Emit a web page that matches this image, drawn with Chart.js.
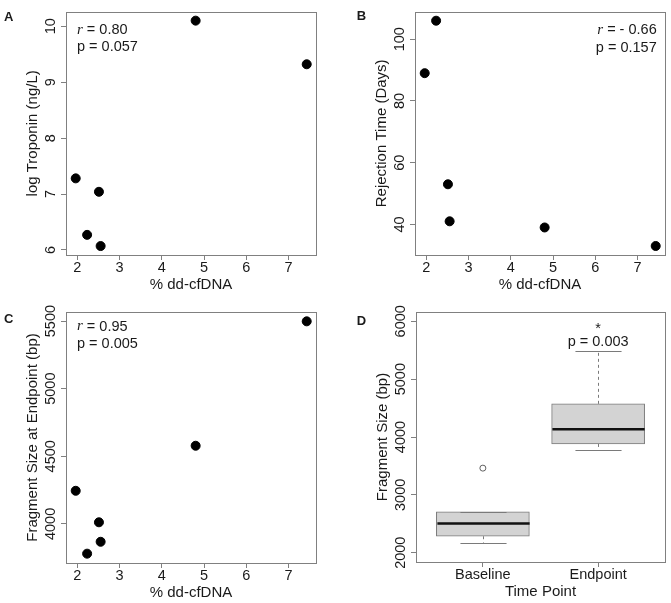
<!DOCTYPE html>
<html>
<head>
<meta charset="utf-8">
<script src="https://cdn.jsdelivr.net/npm/chart.js@4.4.0/dist/chart.umd.min.js"></script>
<style>
  body { margin: 0; background: #fff; }
  #wrap { position: relative; width: 671px; height: 603px; }
  canvas { position: absolute; }
</style>
</head>
<body>
<div id="wrap">
  <canvas id="chartA" width="335" height="300" style="left:0;top:0"></canvas>
  <canvas id="chartB" width="336" height="300" style="left:335px;top:0"></canvas>
  <canvas id="chartC" width="335" height="303" style="left:0;top:300px"></canvas>
  <canvas id="chartD" width="336" height="303" style="left:335px;top:300px"></canvas>
</div>
<script>
// Data
const ddcfDNA = [1.96, 2.23, 2.51, 2.55, 4.80, 7.43];
const logTroponin = [7.28, 6.27, 7.04, 6.07, 10.10, 9.32];
const rejectionDays = [89, 106, 53, 41, 39, 33];
const fragmentEndpoint = [4245, 3780, 4012, 3868, 4578, 5498];

// Box plot (panel D)
const timePoints = ['Baseline', 'Endpoint'];
const boxMin = [2172, 3780];
const boxQ1 = [2285, 3880];
const boxMedian = [2504, 4132];
const boxQ3 = [2705, 4573];
const boxMax = [2705, 5479];
const boxOutliers = [[3462], []];

// Tick values
const xTicksPct = [2, 3, 4, 5, 6, 7];
const yTicksA = [6, 7, 8, 9, 10];
const yTicksB = [40, 60, 80, 100];
const yTicksC = [4000, 4500, 5000, 5500];
const yTicksD = [2000, 3000, 4000, 5000, 6000];
const xTicksD = [1, 2];

const SANS = "'Liberation Sans', Arial, sans-serif";
const INK = '#1a1a1a';
const FRAME = '#808080';

Chart.defaults.font.family = SANS;
Chart.defaults.color = INK;

// frame, rotated y tick labels, panel letter, stats text
function panelPlugin(p) {
    return {
        id: 'panel' + p.letter,
        afterDraw(chart) {
            const ctx = chart.ctx;
            const a = chart.chartArea;
            const ys = chart.scales.y;
            ctx.save();
            ctx.strokeStyle = FRAME;
            ctx.lineWidth = 1;
            ctx.strokeRect(Math.round(a.left) + 0.5, Math.round(a.top) + 0.5,
                Math.round(a.right - a.left), Math.round(a.bottom - a.top));

            ctx.fillStyle = INK;
            ctx.font = '14.5px ' + SANS;
            ctx.textAlign = 'center';
            ctx.textBaseline = 'middle';
            ys.ticks.forEach(t => {
                const y = ys.getPixelForValue(t.value);
                ctx.save();
                ctx.translate(a.left - 15, y);
                ctx.rotate(-Math.PI / 2);
                ctx.fillText(String(t.value), 0, 0);
                ctx.restore();
            });

            ctx.font = 'bold 13px ' + SANS;
            ctx.textAlign = 'left';
            ctx.fillText(p.letter, p.letterX, p.letterY);

            if (p.stats) {
                const s = p.stats;
                const rFont = 'italic 15px "Liberation Serif", serif';
                const sFont = '14.5px ' + SANS;
                const y1 = a.top + s.dy1, y2 = a.top + s.dy2;
                if (s.align === 'left') {
                    const x = a.left + s.dx;
                    ctx.font = rFont;
                    ctx.fillText('r', x, y1);
                    const rw = ctx.measureText('r').width;
                    ctx.font = sFont;
                    ctx.fillText(s.r, x + rw, y1);
                    ctx.fillText(s.p, x, y2);
                } else {
                    const x = a.right - s.dx;
                    ctx.font = sFont;
                    ctx.textAlign = 'right';
                    ctx.fillText(s.r, x, y1);
                    ctx.fillText(s.p, x, y2);
                    const w = ctx.measureText(s.r).width;
                    ctx.font = rFont;
                    ctx.fillText('r', x - w, y1);
                }
            }
            ctx.restore();
        }
    };
}

function axisX(p) {
    return {
        type: 'linear',
        min: p.min, max: p.max,
        offset: false,
        afterFit: s => { s.height = p.height; },
        afterBuildTicks: s => { s.ticks = p.ticks.map(v => ({ value: v })); },
        border: { display: false },
        grid: { display: true, offset: false, drawOnChartArea: false, drawTicks: true, tickLength: 5, color: FRAME },
        ticks: { maxRotation: 0, autoSkip: false, padding: -1, font: { size: 14.5 }, color: INK,
            callback: p.labels ? (v => p.labels[p.ticks.indexOf(v)]) : (v => String(v)) },
        title: { display: true, text: p.title, font: { size: 15 }, color: INK, padding: { top: 0, bottom: p.titlePad } }
    };
}

function axisY(p) {
    return {
        type: 'linear',
        min: p.min, max: p.max,
        afterFit: s => { s.width = p.width; },
        afterBuildTicks: s => { s.ticks = p.ticks.map(v => ({ value: v })); },
        border: { display: false },
        grid: { display: true, drawOnChartArea: false, drawTicks: true, tickLength: 5, color: FRAME },
        ticks: { color: 'rgba(0,0,0,0)', font: { size: 14.5 } },
        title: { display: true, text: p.title, font: { size: 15 }, color: INK, padding: { top: p.titlePad, bottom: 0 } }
    };
}

function scatterChart(id, values, cfg) {
    return new Chart(document.getElementById(id), {
        type: 'scatter',
        data: {
            datasets: [{
                data: ddcfDNA.map((x, i) => ({ x: x, y: values[i] })),
                backgroundColor: '#000',
                borderColor: '#000',
                pointRadius: 4.5,
                pointHoverRadius: 4.5
            }]
        },
        options: {
            responsive: false,
            animation: false,
            events: [],
            layout: { padding: cfg.pad },
            plugins: { legend: { display: false }, tooltip: { enabled: false } },
            scales: { x: axisX(cfg.x), y: axisY(cfg.y) }
        },
        plugins: [panelPlugin(cfg.panel)]
    });
}

scatterChart('chartA', logTroponin, {
    pad: { top: 4, right: 19, left: 0, bottom: 0 },
    x: { min: 1.73, max: 7.65, ticks: xTicksPct, height: 45, title: '% dd-cfDNA', titlePad: 6 },
    y: { min: 5.91, max: 10.26, ticks: yTicksA, width: 66, title: 'log Troponin (ng/L)', titlePad: 24 },
    panel: { letter: 'A', letterX: 4, letterY: 17,
        stats: { align: 'left', dx: 11, dy1: 18.5, dy2: 35.7, r: ' = 0.80', p: 'p = 0.057' } }
});

scatterChart('chartB', rejectionDays, {
    pad: { top: 4, right: 6, left: 0, bottom: 0 },
    x: { min: 1.73, max: 7.65, ticks: xTicksPct, height: 45, title: '% dd-cfDNA', titlePad: 6 },
    y: { min: 30.08, max: 108.92, ticks: yTicksB, width: 80, title: 'Rejection Time (Days)', titlePad: 37.7 },
    panel: { letter: 'B', letterX: 21.7, letterY: 16.2,
        stats: { align: 'right', dx: 8.3, dy1: 18.7, dy2: 36, r: ' = - 0.66', p: 'p = 0.157' } }
});

scatterChart('chartC', fragmentEndpoint, {
    pad: { top: 12, right: 19, left: 0, bottom: 0 },
    x: { min: 1.73, max: 7.65, ticks: xTicksPct, height: 40, title: '% dd-cfDNA', titlePad: 1 },
    y: { min: 3711, max: 5567, ticks: yTicksC, width: 66, title: 'Fragment Size at Endpoint (bp)', titlePad: 24 },
    panel: { letter: 'C', letterX: 4, letterY: 19.5,
        stats: { align: 'left', dx: 11, dy1: 14.5, dy2: 32.4, r: ' = 0.95', p: 'p = 0.005' } }
});

// Panel D: box plot, box from floating bars, whiskers/medians via the scales
const boxPlugin = {
    id: 'boxWhiskers',
    afterDatasetsDraw(chart) {
        const ctx = chart.ctx;
        const xs = chart.scales.x, ys = chart.scales.y;
        const unit = xs.getPixelForValue(1) - xs.getPixelForValue(0);
        ctx.save();
        timePoints.forEach((t, i) => {
            const xc = Math.round(xs.getPixelForValue(xTicksD[i])) + 0.5;
            ctx.strokeStyle = '#7a7a7a';
            ctx.lineWidth = 1;
            ctx.setLineDash([3, 3]);
            ctx.beginPath();
            ctx.moveTo(xc, ys.getPixelForValue(boxQ3[i]));
            ctx.lineTo(xc, ys.getPixelForValue(boxMax[i]));
            ctx.moveTo(xc, ys.getPixelForValue(boxQ1[i]));
            ctx.lineTo(xc, ys.getPixelForValue(boxMin[i]));
            ctx.stroke();
            ctx.setLineDash([]);
            ctx.beginPath();
            [boxMin[i], boxMax[i]].forEach(v => {
                const y = Math.round(ys.getPixelForValue(v)) + 0.5;
                ctx.moveTo(xc - 0.2 * unit, y);
                ctx.lineTo(xc + 0.2 * unit, y);
            });
            ctx.stroke();
            ctx.strokeStyle = '#111';
            ctx.lineWidth = 2.5;
            ctx.beginPath();
            const ym = ys.getPixelForValue(boxMedian[i]);
            ctx.moveTo(xc - 0.4 * unit, ym);
            ctx.lineTo(xc + 0.4 * unit, ym);
            ctx.stroke();
        });
        // significance label above Endpoint
        const xe = xs.getPixelForValue(xTicksD[1]);
        const yTop = ys.getPixelForValue(boxMax[1]);
        ctx.fillStyle = INK;
        ctx.textAlign = 'center';
        ctx.textBaseline = 'middle';
        ctx.font = '14.5px ' + SANS;
        ctx.fillText('p = 0.003', xe, yTop - 9.5);
        ctx.fillText('*', xe, yTop - 22);
        ctx.restore();
    }
};

new Chart(document.getElementById('chartD'), {
    type: 'bar',
    data: {
        datasets: [{
            type: 'bar',
            data: timePoints.map((t, i) => ({ x: xTicksD[i], y: [boxQ1[i], boxQ3[i]] })),
            backgroundColor: '#d3d3d3',
            borderColor: '#7a7a7a',
            borderWidth: 1,
            borderSkipped: false,
            barThickness: 93
        }, {
            type: 'scatter',
            data: boxOutliers.flatMap((vals, i) => vals.map(v => ({ x: xTicksD[i], y: v }))),
            backgroundColor: 'rgba(0,0,0,0)',
            borderColor: '#606060',
            borderWidth: 1,
            pointRadius: 3
        }]
    },
    options: {
        responsive: false,
        animation: false,
        events: [],
        layout: { padding: { top: 12, right: 6, left: 0, bottom: 0 } },
        plugins: { legend: { display: false }, tooltip: { enabled: false } },
        scales: {
            x: axisX({ min: 0.42, max: 2.58, ticks: xTicksD, labels: timePoints, height: 41, title: 'Time Point', titlePad: 2.3 }),
            y: axisY({ min: 1840, max: 6160, ticks: yTicksD, width: 81, title: 'Fragment Size (bp)', titlePad: 39.3 })
        }
    },
    plugins: [panelPlugin({ letter: 'D', letterX: 21.7, letterY: 21.3 }), boxPlugin]
});
</script>
</body>
</html>
